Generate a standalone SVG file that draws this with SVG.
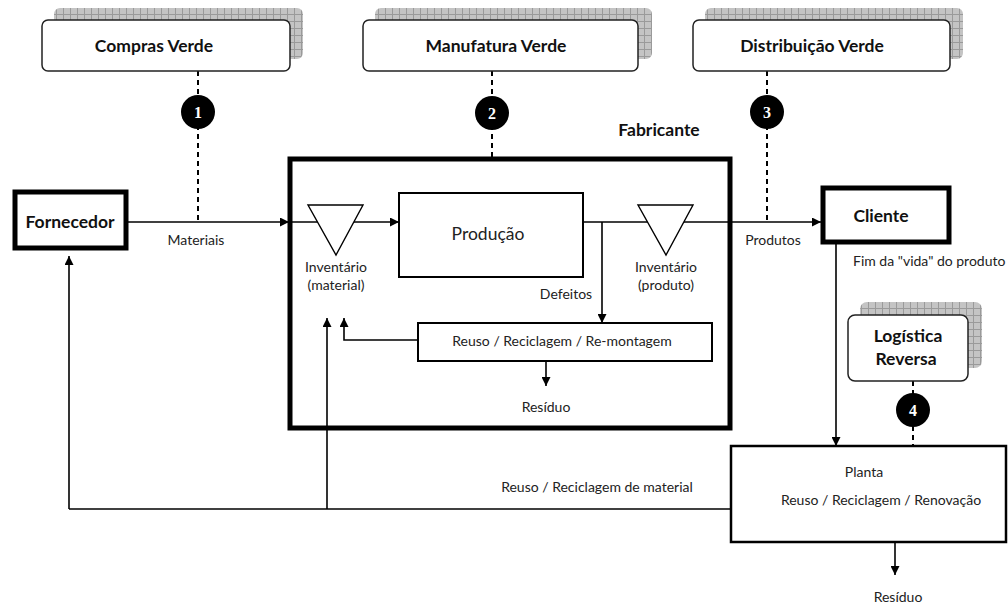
<svg xmlns="http://www.w3.org/2000/svg" width="1008" height="604" viewBox="0 0 1008 604">
  <style>
    .lbl { font-family: Lato, "Open Sans", sans-serif; fill: #222; font-size: 14px; }
    .big { font-family: Lato, "Open Sans", sans-serif; fill: #111; font-size: 17.5px; font-weight: bold; }
    .num { font-family: "Liberation Serif", serif; fill: #fff; font-size: 16px; font-weight: bold; }
    .card { fill: #fff; stroke: #222; stroke-width: 1.5; }
    .shade { fill: url(#grid); }
    .thick { fill: #fff; stroke: #000; stroke-width: 5; }
    .box { fill: #fff; stroke: #000; stroke-width: 2; }
    .ln { fill: none; stroke: #000; stroke-width: 1.6; }
    .dash { fill: none; stroke: #000; stroke-width: 2; stroke-dasharray: 5 4; }
    .arr { fill: none; stroke: #000; stroke-width: 1.6; marker-end: url(#ah); }
  </style>
  <defs>
    <pattern id="grid" width="7" height="7" patternUnits="userSpaceOnUse">
      <rect width="7" height="7" fill="#c4c4c4"/>
      <path d="M0 0.5H7M0.5 0V7" stroke="#9a9a9a" stroke-width="1"/>
    </pattern>
    <marker id="ah" viewBox="0 0 10 10" refX="10" refY="5" markerWidth="9" markerHeight="9" markerUnits="userSpaceOnUse" orient="auto">
      <path d="M0 0L10 5L0 10Z" fill="#000"/>
    </marker>
  </defs>

  <!-- connectors -->
  <g id="connectors">
    <!-- dashed links from strategy cards -->
    <path class="dash" d="M198 71V220"/>
    <path class="dash" d="M492 71V157"/>
    <path class="dash" d="M767 71V222"/>
    <path class="dash" d="M913 381V446"/>
    <!-- main forward flow -->
    <path class="arr" d="M128 222H289"/>
    <path class="arr" d="M292 222H399"/>
    <path class="arr" d="M583 222H821"/>
    <path class="arr" d="M602 222V323"/>
    <path class="arr" d="M546 361V386"/>
    <path class="arr" d="M418 340H344V318"/>
    <!-- end of life and reverse flows -->
    <path class="arr" d="M836 244V446"/>
    <path class="arr" d="M895 542V575"/>
    <path class="ln" d="M731 509H69"/>
    <path class="arr" d="M69 509V256"/>
    <path class="arr" d="M327 509V318"/>
    <!-- flow labels -->
    <text class="lbl" x="196" y="245" text-anchor="middle">Materiais</text>
    <text class="lbl" x="773" y="245" text-anchor="middle">Produtos</text>
    <text class="lbl" x="566" y="299" text-anchor="middle">Defeitos</text>
    <text class="lbl" x="546" y="412" text-anchor="middle">Resíduo</text>
    <text class="lbl" x="853" y="266">Fim da "vida" do produto</text>
    <text class="lbl" x="597" y="492" text-anchor="middle">Reuso / Reciclagem de material</text>
    <text class="lbl" x="898" y="602" text-anchor="middle">Resíduo</text>
  </g>

  <g id="compras-verde">
    <rect class="shade" x="54" y="8" width="249" height="51" rx="6"/>
    <rect class="card" x="42" y="20" width="248" height="51" rx="6"/>
    <text class="big" x="154" y="52" text-anchor="middle">Compras Verde</text>
    <circle cx="198" cy="112" r="17" fill="#000"/>
    <text class="num" x="198" y="118" text-anchor="middle">1</text>
  </g>

  <g id="manufatura-verde">
    <rect class="shade" x="375" y="8" width="277" height="51" rx="6"/>
    <rect class="card" x="363" y="20" width="275" height="51" rx="6"/>
    <text class="big" x="496" y="52" text-anchor="middle">Manufatura Verde</text>
    <circle cx="492" cy="113" r="17" fill="#000"/>
    <text class="num" x="492" y="119" text-anchor="middle">2</text>
  </g>

  <g id="distribuicao-verde">
    <rect class="shade" x="705" y="8" width="258" height="51" rx="6"/>
    <rect class="card" x="693" y="20" width="257" height="51" rx="6"/>
    <text class="big" x="812" y="52" text-anchor="middle">Distribuição Verde</text>
    <circle cx="767" cy="112" r="17" fill="#000"/>
    <text class="num" x="767" y="118" text-anchor="middle">3</text>
  </g>

  <g id="fornecedor">
    <rect class="thick" x="15" y="192" width="111" height="56"/>
    <text class="big" x="70" y="228" text-anchor="middle">Fornecedor</text>
  </g>

  <g id="fabricante">
    <text class="big" x="659" y="136" text-anchor="middle">Fabricante</text>
    <rect fill="none" stroke="#000" stroke-width="5" x="290" y="159" width="440" height="269"/>
  </g>

  <g id="inventario-material">
    <path d="M308 205H363L336 255Z" fill="#fff" stroke="#000" stroke-width="1.4"/>
    <text class="lbl" x="336" y="272" text-anchor="middle">Inventário</text>
    <text class="lbl" x="336" y="290" text-anchor="middle">(material)</text>
  </g>

  <g id="producao">
    <rect class="box" x="399" y="193" width="184" height="84"/>
    <text x="488" y="240" text-anchor="middle" font-family="Lato, 'Open Sans', sans-serif" font-size="17.5" fill="#222">Produção</text>
  </g>

  <g id="inventario-produto">
    <path d="M638 205H693L666 255Z" fill="#fff" stroke="#000" stroke-width="1.4"/>
    <text class="lbl" x="666" y="272" text-anchor="middle">Inventário</text>
    <text class="lbl" x="666" y="290" text-anchor="middle">(produto)</text>
  </g>

  <g id="reuso-interno">
    <rect class="box" x="418" y="323" width="294" height="38"/>
    <text class="lbl" x="562" y="346" text-anchor="middle">Reuso / Reciclagem / Re-montagem</text>
  </g>

  <g id="cliente">
    <rect class="thick" x="823" y="188" width="126" height="54"/>
    <text class="big" x="881" y="222" text-anchor="middle">Cliente</text>
  </g>

  <g id="logistica-reversa">
    <rect class="shade" x="860" y="302" width="122" height="66" rx="7"/>
    <rect class="card" x="848" y="315" width="120" height="66" rx="7"/>
    <text class="big" x="908" y="342" text-anchor="middle">Logística</text>
    <text class="big" x="906" y="365" text-anchor="middle">Reversa</text>
    <circle cx="913" cy="410" r="17" fill="#000"/>
    <text class="num" x="913" y="416" text-anchor="middle">4</text>
  </g>

  <g id="planta">
    <rect fill="#fff" stroke="#000" stroke-width="2.5" x="731" y="446" width="275" height="96"/>
    <text class="lbl" x="864" y="477" text-anchor="middle">Planta</text>
    <text class="lbl" x="881" y="505" text-anchor="middle">Reuso / Reciclagem / Renovação</text>
  </g>
</svg>
